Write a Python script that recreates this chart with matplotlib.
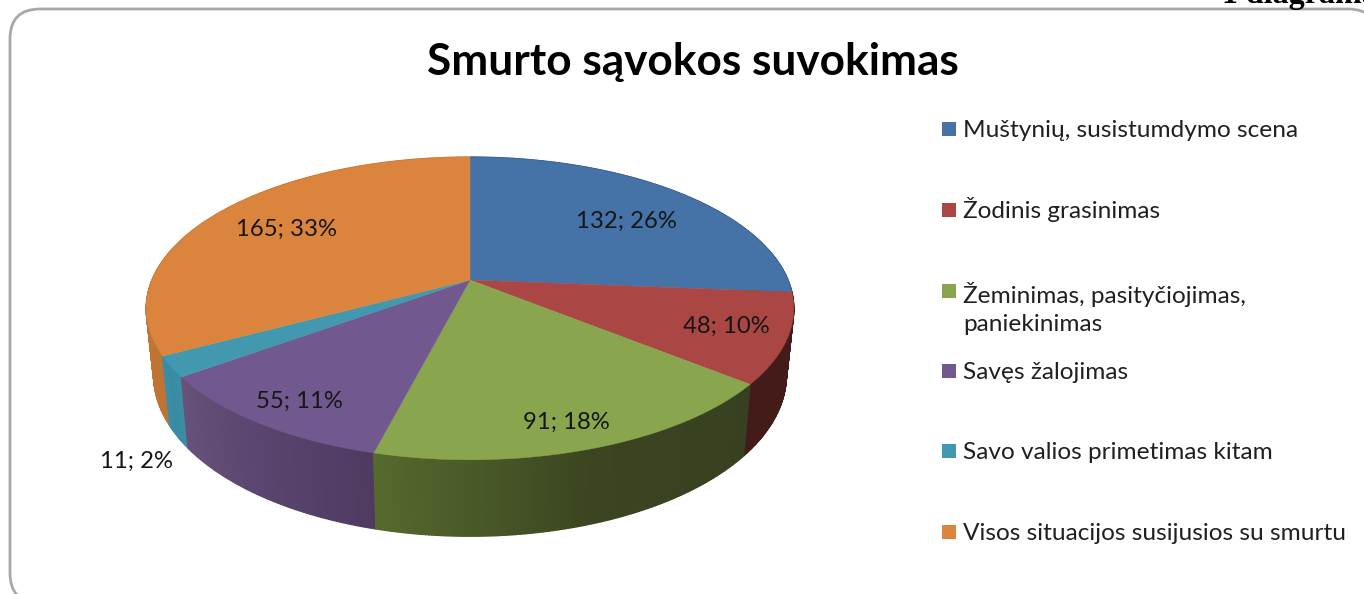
import numpy as np
import matplotlib
matplotlib.use("Agg")
import matplotlib.pyplot as plt
from matplotlib.patches import FancyBboxPatch, Rectangle
from matplotlib.colors import to_rgb

title = "Smurto sąvokos suvokimas"
categories = ["Muštynių, susistumdymo scena", "Žodinis grasinimas",
              "Žeminimas, pasityčiojimas,\npaniekinimas", "Savęs žalojimas",
              "Savo valios primetimas kitam", "Visos situacijos susijusios su smurtu"]
values = [132, 48, 91, 55, 11, 165]

colors = ["#4572A7", "#AA4643", "#89A54E", "#71588F", "#4198AF", "#DB843D"]
side_start = ["#2f4f78", "#431b18", "#374020", "#4f3a60", "#3a8ea5", "#bf7433"]
side_mid = ["#2f4f78", "#431b18", "#3b4521", "#5a4570", "#388ba2", "#bf7433"]
side_end = ["#2f4f78", "#431b18", "#566a2e", "#675279", "#3a8ea5", "#bf7433"]
label_xy = [(626, 221), (726, 326), (566, 422), (299, 401), (137, 461), (286, 229)]
legend_y = [129, 210, 291, 371, 451, 532]

FONT = "Lato"
plt.rcParams["font.family"] = [FONT, "DejaVu Sans"]

fig = plt.figure(figsize=(13.64, 5.94), dpi=100)
ax = fig.add_axes([0, 0, 1, 1])
ax.set_xlim(0, 1364)
ax.set_ylim(594, 0)
ax.axis("off")

ax.add_patch(FancyBboxPatch((10, 9), 1368, 594, boxstyle="round,pad=0,rounding_size=30",
                            fc="white", ec="#a8a8a8", lw=2.0, zorder=0))
ax.text(1222, 2.5, "1 diagrama", family="Liberation Serif", weight="bold", fontsize=23,
        ha="left", va="baseline", color="black", clip_on=True, zorder=1)


def project(theta):
    """Clockwise angle from the far side of the pie to top-face pixels."""
    x, y = np.sin(theta), np.cos(theta)
    w = 1 + 0.188 * y
    return 470 + 318 * x / w, 280 - 146 * y / w


def floor(px, py):
    return 470 + 0.977 * (px - 470), 46.5 + 1.065 * py


total = sum(values)
edges = 2 * np.pi * np.cumsum([0] + values) / total

# side walls, far ones first
quads = []
for i in range(len(values)):
    n = max(int((edges[i + 1] - edges[i]) * 120), 4)
    ts = np.linspace(edges[i], edges[i + 1], n + 1)
    c0, c1, c2 = map(lambda c: np.array(to_rgb(c)), (side_start[i], side_mid[i], side_end[i]))
    for j in range(n):
        f = (j + 0.5) / n
        col = c0 + (c1 - c0) * f * 2 if f < 0.5 else c1 + (c2 - c1) * (f - 0.5) * 2
        tx, ty = project(np.array([ts[j], ts[j + 1]]))
        bx, by = floor(tx, ty)
        quads.append((np.cos(ts[j]), [tx[0], tx[1], bx[1], bx[0]], [ty[0], ty[1], by[1], by[0]], col))
for _, qx, qy, col in sorted(quads, key=lambda q: -q[0]):
    ax.fill(qx, qy, color=col, lw=1.0, zorder=2)

# top face
for i in range(len(values)):
    ts = np.linspace(edges[i], edges[i + 1], 200)
    px, py = project(ts)
    ax.fill(np.r_[470, px], np.r_[280, py], color=colors[i], lw=0.3, zorder=3)

ax.text(693, 62, title, fontsize=31.8, weight="bold", ha="center", va="center", color="black", zorder=5)

for v, (lx, ly) in zip(values, label_xy):
    ax.text(lx, ly, f"{v}; {round(100 * v / total)}%", fontsize=17.2, ha="center", va="center",
            color="#161616", zorder=5)

for cat, col, ly in zip(categories, colors, legend_y):
    ax.add_patch(Rectangle((942, ly - 7), 14, 14, fc=col, ec="none", zorder=4))
    ax.text(963, ly + 8 + 32 * cat.count("\n"), cat, fontsize=17.6, ha="left", va="baseline",
            color="#202020", linespacing=1.42, zorder=5)

fig.savefig("out.png", dpi=100)
